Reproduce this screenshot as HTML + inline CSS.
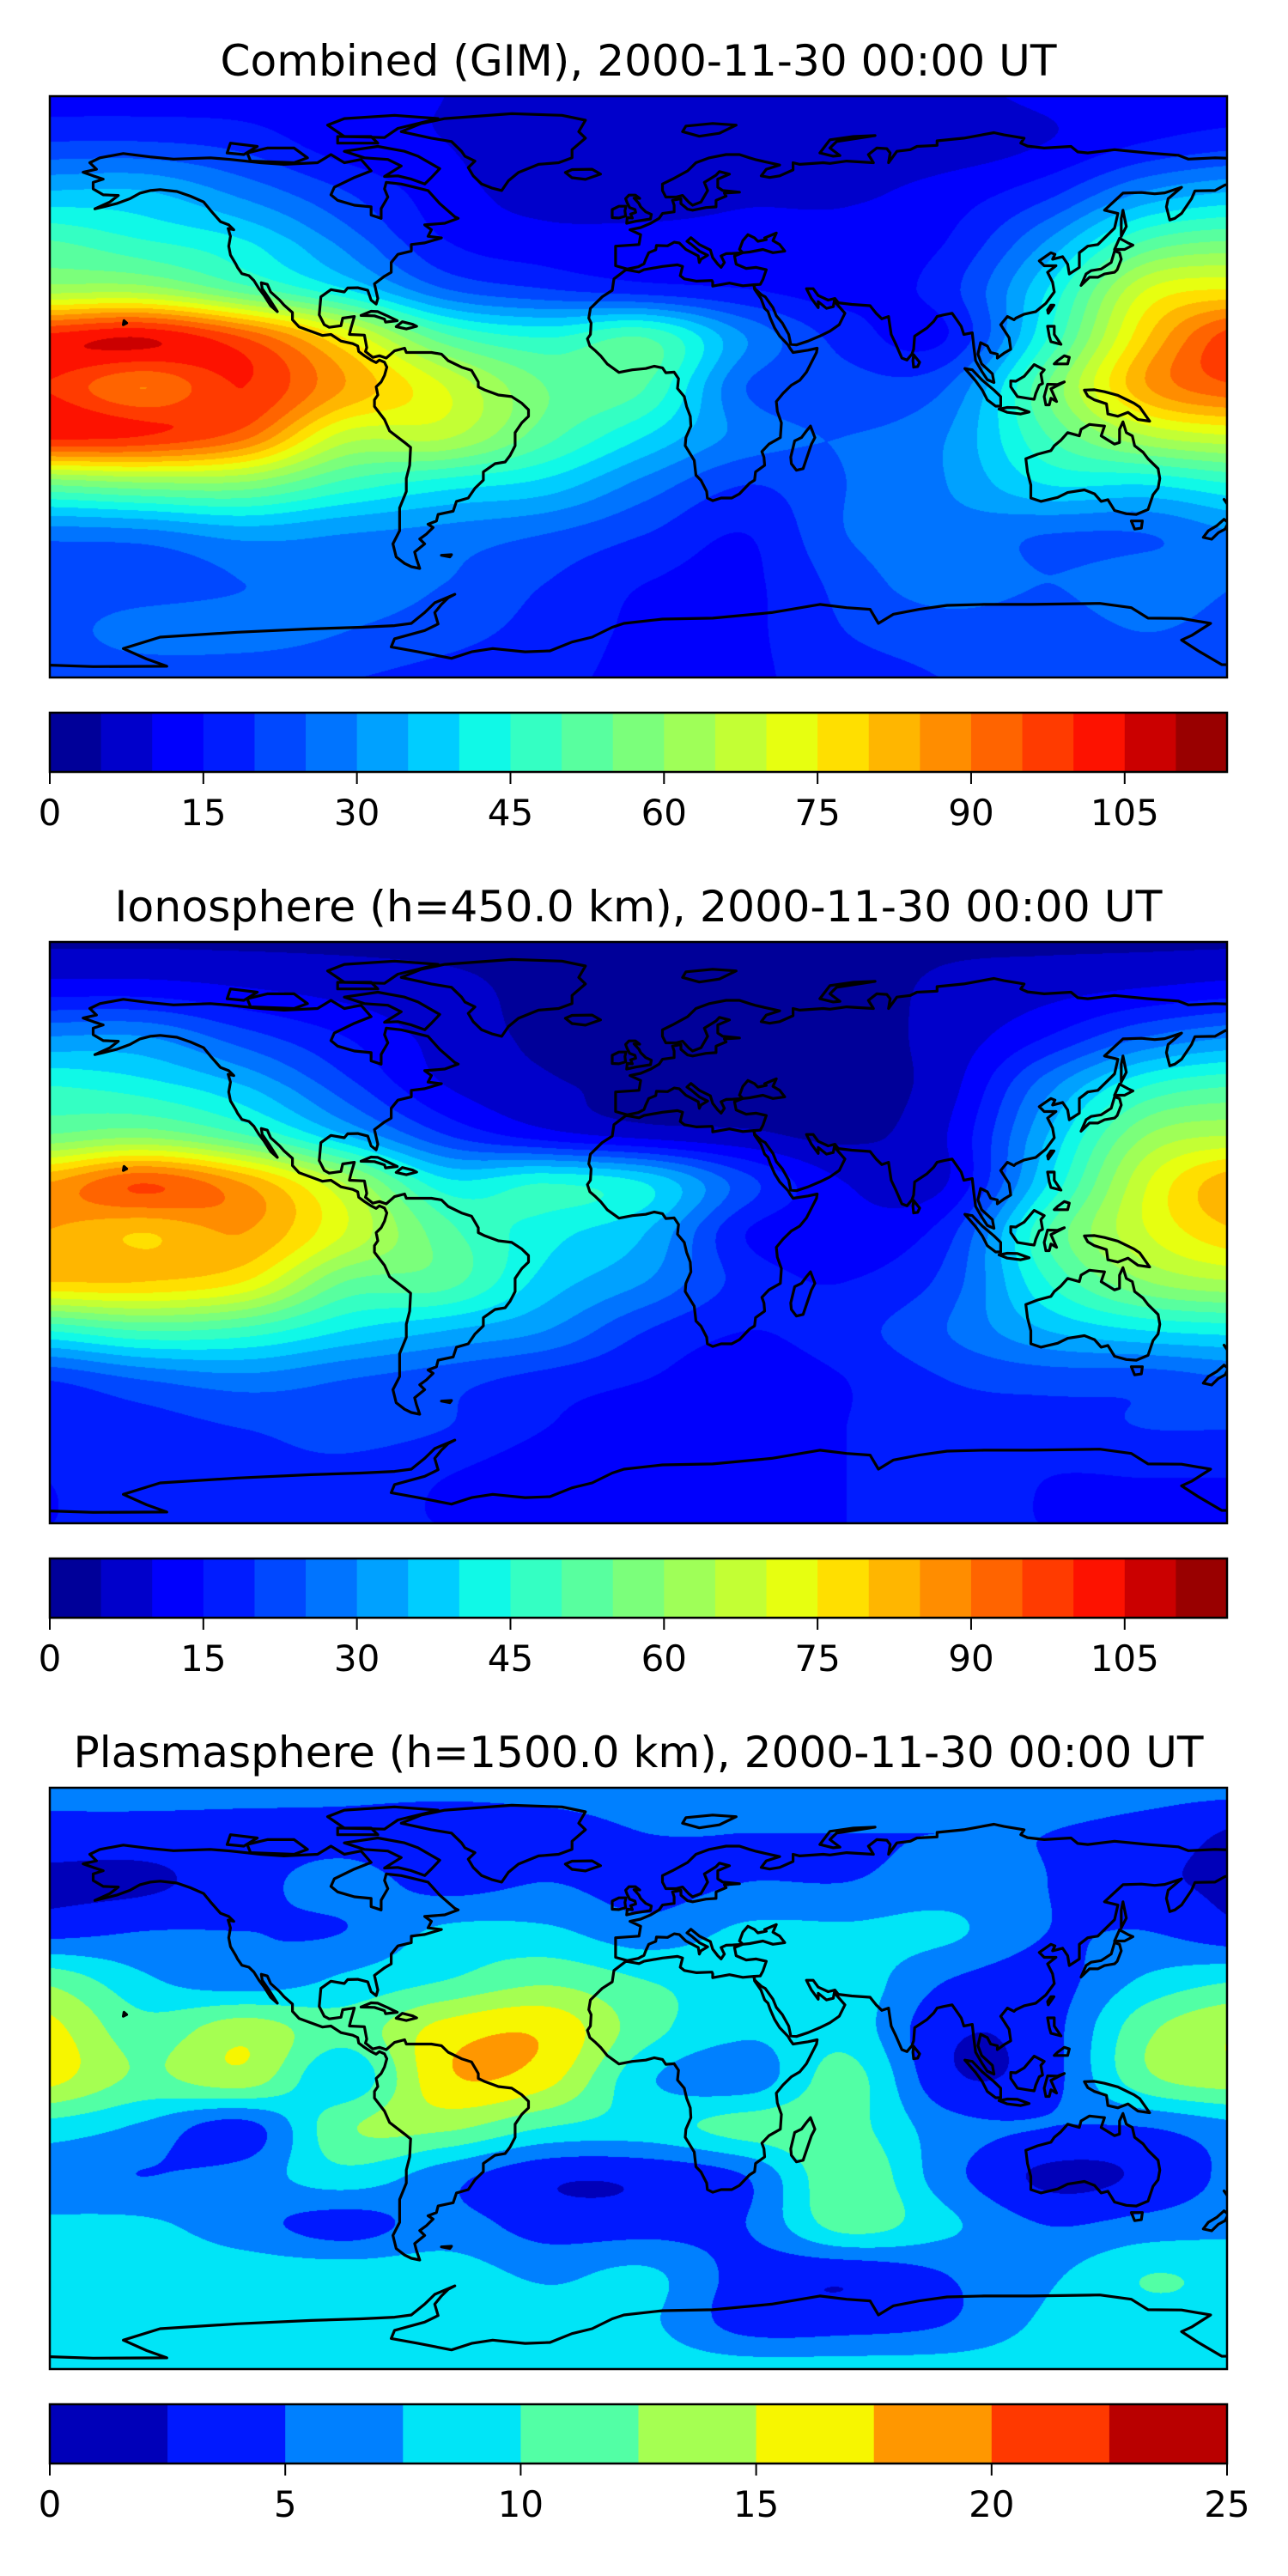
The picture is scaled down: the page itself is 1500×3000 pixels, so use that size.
<!DOCTYPE html>
<html><head><meta charset="utf-8">
<style>
body{margin:0;width:1500px;height:3000px;background:#fff;position:relative;overflow:hidden;font-family:"DejaVu Sans","Liberation Sans",sans-serif}
canvas{position:absolute}
svg{position:absolute;left:0;top:0}
</style></head>
<body>
<svg id="ov" width="1500" height="3000"></svg>
<script>
// ---- chart data ----
const gridLats=[90,75,60,45,30,15,0,-15,-30,-45,-60,-75,-90];
const gridLons=[-180,-150,-120,-90,-60,-30,0,30,60,90,120,150,180];
const gimValues=[
[12,12,12,11,10,9,9,9,9,9,11,12,12],
[20,20,18,12,10,8,7,7,7,7,10,15,18],
[35,35,28,20,12,8,7,9,9,12,18,30,35],
[50,45,40,28,15,12,12,12,12,15,30,50,55],
[62,62,52,40,25,20,17,15,13,18,40,70,75],
[102,105,95,75,52,45,50,30,18,15,45,80,100],
[100,90,100,85,70,55,50,25,22,25,55,85,95],
[102,100,92,68,66,52,40,28,25,30,50,65,70],
[55,58,58,48,42,38,28,20,25,30,40,40,45],
[27,28,32,30,28,25,20,15,25,28,25,25,30],
[22,22,25,28,25,20,15,14,22,28,25,28,25],
[22,28,28,25,22,18,14,14,20,22,22,25,22],
[20,20,20,20,18,16,14,14,18,20,20,20,20]];
const ionoValues=[
[4,4,4,4,4,4,3,3,3,4,4,4,4],
[12,12,10,8,6,4,3,3,3,6,8,10,12],
[30,30,22,15,8,4,3,3,3,7,15,25,30],
[45,42,35,22,10,6,3,3,3,8,28,45,50],
[55,58,50,35,20,12,8,6,4,10,35,60,65],
[85,95,85,65,42,45,40,22,10,10,40,70,85],
[85,80,85,70,52,42,35,15,12,18,50,70,80],
[80,80,75,55,52,38,30,18,15,22,45,60,65],
[45,50,48,40,35,30,20,15,18,25,35,40,42],
[20,25,28,25,22,18,15,12,15,20,22,22,25],
[18,18,20,22,20,15,12,12,15,18,18,20,20],
[15,18,18,18,15,12,12,12,15,18,15,15,15],
[15,15,15,15,15,15,15,15,15,15,15,15,15]];
const plasmaValues=[
[6,6,6,6,6,6,6,6,6,6,6,6,6],
[4,4,4,4,3,4,5,5,5,5,5,4,2],
[2,2,4,6,4,5,4,5,5,6,5,3,2],
[4,5,5,5,8,8,6,8,8,8,5,5,3],
[12,8,6,8,10,12,10,9,9,5,4,8,10],
[16,11,14,11,16,17,11,8,9,3,4,12,15],
[16,12,14,8,17,16,8,6,11,3,4,12,14],
[9,7,4,12,13,10,9,11,11,6,5,5,7],
[6,5,6,9,6,3,3,5,12,6,2,3,6],
[8,8,6,4,6,4,4,5,11,8,5,6,7],
[9,9,9,9,9,7,8,4,3,5,7,10,9],
[9,9,9,9,10,9,8,4,4,5,8,9,9],
[9,9,9,9,9,9,9,9,9,9,9,9,9]];
const gimTicks=[0,15,30,45,60,75,90,105];
const ionoTicks=[0,15,30,45,60,75,90,105];
const plasmaTicks=[0,5,10,15,20,25];
const panelTitles=["Combined (GIM), 2000-11-30 00:00 UT","Ionosphere  (h=450.0 km), 2000-11-30 00:00 UT","Plasmasphere (h=1500.0 km), 2000-11-30 00:00 UT"];

// coastlines [lon,lat]
const coasts={
americas:[[-166,68.5],[-163,70],[-156,71.3],[-148,70.3],[-141,69.6],[-130,70],[-124,69.5],[-115,68.5],[-108,68],[-98,68.5],[-94,71],[-90,68.5],[-85,69.5],[-82,66],[-87,64],[-93,61],[-94,58.7],[-92,57],[-87,55.5],[-82,55],[-82,52.5],[-79,51.5],[-79,54.5],[-77,58],[-78,60.5],[-77.5,62.5],[-73,62],[-69,61],[-65,60],[-61.5,56],[-57,52],[-56,51.5],[-60,50],[-66,49.5],[-64,48],[-65,46],[-61,45.5],[-66,44],[-70,43.5],[-70,41.5],[-74,40.5],[-76,38],[-76,35],[-78,33.8],[-81,31.5],[-80,27],[-80.5,25.3],[-82,26.5],[-83,29.5],[-86,30.3],[-89,30.2],[-90,29],[-94,29.7],[-97,27.5],[-97.5,22],[-96,19],[-94.5,18.2],[-91,18.7],[-90.5,21],[-87,21.5],[-88,18],[-88.5,16],[-84,15.8],[-83.3,12],[-83.7,10.8],[-81.5,9],[-79.5,9.5],[-77.5,8.8],[-75,11],[-72,11.8],[-71.5,10.5],[-68,10.5],[-64,10.5],[-61,10],[-59,8],[-55,6],[-52,5],[-50,1.5],[-50,0],[-48,-1],[-44,-2.5],[-40,-3],[-37,-5],[-35,-7],[-35,-9],[-37,-11],[-39,-14],[-39,-18],[-40.5,-21],[-42,-23],[-45,-23.5],[-48.5,-26],[-48.5,-28.5],[-51,-31],[-53,-34],[-56.5,-35],[-57.5,-38],[-62,-39],[-62.5,-41],[-65,-42],[-63.5,-43],[-65.5,-45],[-67.5,-46.5],[-66,-48],[-69,-50.5],[-68.5,-52.5],[-67.5,-55.5],[-70,-55],[-72,-54],[-74.5,-52],[-75.5,-48],[-73.5,-44],[-73.5,-40],[-73.5,-37],[-71.5,-32],[-71.5,-28],[-70.5,-24],[-70.2,-18.5],[-72,-17],[-76.5,-13.5],[-78,-10],[-81,-6],[-81,-4],[-80,-2.5],[-80.5,0],[-79,1.5],[-78,3.5],[-77.3,6],[-78,7.5],[-79.5,8.2],[-80.5,7.4],[-82,8.2],[-84,9.5],[-85.7,10.8],[-86,12.5],[-87.5,13.2],[-91,14],[-94,16],[-96.5,15.7],[-100,17],[-103.5,18.3],[-105.5,20.5],[-105.5,22.7],[-108,25],[-109.3,26.5],[-112,29],[-113,31.3],[-114.8,31.8],[-114.5,30],[-112.5,27],[-110,23],[-112,24.8],[-114,28],[-115.5,30],[-117,32.5],[-118.5,34],[-120.6,34.6],[-121.9,36.5],[-122.5,37.7],[-124,40.3],[-124.5,43],[-124,46],[-124.7,48.4],[-123,48],[-124.5,49.5],[-127,50.5],[-130,54],[-132,56.5],[-136,58.3],[-140,59.7],[-145,60.3],[-148,60],[-151,59.2],[-154,57.5],[-158,56],[-162,55],[-164.5,54.4],[-160,56.5],[-157.5,58.5],[-162,58.7],[-165,60.5],[-165,62.5],[-162,63.5],[-165,64.5],[-168,65.6],[-164,66.5],[-166,68.5]],
greenland:[[-73,78],[-67,80.5],[-60,82],[-40,83.5],[-25,83],[-18,81.5],[-20,78],[-18,76],[-22,72.5],[-22,70],[-26,68.5],[-32,68],[-38,65.5],[-41,63],[-43,60],[-46,60.8],[-49,62],[-51.5,64.5],[-53,67],[-51,69],[-54,70.5],[-55,72],[-58,75],[-64,76],[-73,78]],
baffin:[[-61.5,66.7],[-64,64],[-66,62],[-70,63.5],[-74,64.5],[-78,64.3],[-73,67.5],[-77,69.5],[-84,70],[-90,72],[-80,73.5],[-72,72],[-68,70.5],[-61.5,66.7]],
victoria:[[-118,69],[-105,68.5],[-101,70],[-105,73],[-113,73],[-119,71.5],[-118,69]],
ellesmere:[[-90,76.5],[-78,76.2],[-74,79],[-62,82],[-75,83],[-90,82],[-95,80],[-90,76.5]],
banks:[[-125,71.5],[-120,71],[-116,73.5],[-124,74.5],[-125,71.5]],
devon:[[-92,74.5],[-80,74.5],[-82,76.5],[-92,76.5],[-92,74.5]],
eurasia:[[-5.5,36],[-9,37],[-9,39],[-9,43],[-2,43.5],[-1.5,46.5],[-4.7,48],[-1.5,48.7],[1.5,50],[4,51.5],[5,53],[8.5,53.5],[8.5,55.5],[8,57],[10.5,57.5],[10.5,56],[12.5,54.3],[14,54],[18,54.8],[21,55],[21,57],[24,58.3],[23.5,59.2],[28,59.5],[23,60],[21.5,61],[21.5,63.5],[25,65],[22,65.8],[21,64.7],[17.5,62.5],[18.5,60],[16.5,56.5],[14,55.5],[12.8,56.5],[11,58.5],[9,58],[6,58],[5,60],[5,62],[8,63.5],[12.5,66],[15,68.5],[19,70],[24,71],[28,71],[31,70],[33,69.4],[40,67.8],[36,66.5],[34.5,64.5],[37,64],[40,64.5],[44,66.3],[44,68.5],[46,68],[53,68.5],[55,68.3],[60,69],[68,68.5],[66.5,71],[69,73],[72,72.8],[73,71.5],[72.5,68.5],[75,72],[79,72.5],[81,73.5],[87,73.8],[87,75.2],[95,76],[104,77.7],[107,77],[113,76],[112,74.5],[114,73.6],[119,73],[127,73.5],[129,71.8],[132,71.5],[140,72.5],[150,71.5],[159,70.8],[162,69.6],[170,70],[176,69.8],[178,69.4],[180,69],[180,65],[178,64.5],[177,62.5],[173,61.7],[170,60],[164,59.9],[163,57.5],[162,56],[160,53],[158,51.5],[156.5,51],[155.5,55],[156,57.5],[160,61],[155,59.3],[152,59],[148,59.4],[142.5,59.2],[137,54],[141,53],[140,48.5],[135,43.5],[132,43],[129.5,41],[129.5,36.5],[126.5,34.5],[126,37.5],[124.5,39.8],[121.5,39],[122.2,40.5],[121,41],[117.5,38.5],[119,37],[122.5,37],[120,35],[121.5,32],[122,29],[119.5,25.5],[116.5,23],[113,22.2],[110.5,21],[110,20.5],[108,21.5],[106,19],[108.5,15],[109,11.5],[107,10.3],[105,8.8],[105,10],[103,10.5],[102,12.5],[100,13.5],[99.2,10],[100.3,7],[103.5,4],[104,1.3],[102,2.2],[100.5,4.5],[98.5,8],[98,12],[97.5,16.5],[95,16],[94.2,18.5],[92.5,21],[91.5,22.5],[89,22],[87,21.5],[86,20],[84,18],[80.3,15.5],[80,11.5],[79.5,10],[78,8.2],[76.5,8.8],[74.8,12.8],[73.3,16],[72.8,19.5],[72.5,21.5],[70.5,20.8],[68.8,22.5],[67,24.8],[61.5,25.2],[57.5,25.7],[56.5,27],[54.5,26.5],[51.5,27.9],[50,30],[48,30],[49.5,27],[51.5,24.2],[51.5,26],[54,24],[56,24.5],[56.3,26.2],[59.5,22.5],[57.8,19],[55,17],[52,15.5],[48.5,14],[45,12.8],[43.3,13],[42.7,16],[40.8,19.5],[39,21.7],[38,24.2],[35.7,27.5],[34.6,28.1],[32.6,30],[32.3,31.2],[34.2,31.3],[35,32.8],[36,35.8],[33,36.5],[30,36.2],[27,37.5],[26.5,40],[29,41],[31,41.2],[35,42],[38,41],[41.5,41.5],[40,43.5],[38,44.7],[39,47],[35.5,45.5],[36,45],[33.5,44.5],[32.5,45.5],[30.5,46.5],[29,44.7],[28,42],[29,41],[26,40.8],[24,40.7],[22.5,40],[23.5,38],[22.5,36.5],[21.5,37.5],[20,39.5],[19.3,41.8],[16,43.5],[13.5,45.6],[12.3,44.5],[13.7,43.5],[16,41.5],[18.5,40.2],[16.5,39],[16,38],[15.7,40],[12,42],[10,44],[8.5,44.2],[6.5,43.1],[3.2,43.2],[3,41.9],[0.9,41],[0,39],[-0.5,37.6],[-2.2,36.7],[-5.5,36]],
africa:[[-5.9,35.8],[-9.5,33],[-10,29.5],[-13,27.5],[-16.5,24],[-17,21],[-16.3,19.5],[-16.5,16],[-17.4,14.7],[-16.7,12.5],[-15,11],[-13.5,9.5],[-11.5,7],[-8,4.4],[-4,5.2],[0,5.6],[2.5,6.3],[5,5.8],[6,4.3],[8.5,4.5],[9.8,2.5],[9.5,-0.5],[11.5,-3],[12.2,-6],[13.3,-9],[13.5,-12],[12,-15.5],[11.8,-18],[14.5,-22.5],[15,-27],[16.5,-28.6],[18.2,-32],[18.4,-34],[20,-34.8],[22.5,-34],[25.7,-34],[28,-32.7],[31,-29.5],[32.5,-28.5],[32.8,-26],[35.5,-24],[35.3,-21.5],[34.7,-19.8],[36.8,-17.5],[40.2,-15.5],[40.5,-11],[39.3,-7.5],[39,-4.5],[41,-2],[43.5,0.5],[46,2],[48,4.5],[51,10.5],[51.2,11.8],[48.5,11.2],[44,10.5],[43.2,11.6],[42.5,12.8],[40,15.5],[38.5,18],[37.2,21],[36.5,23],[35.5,24],[34.4,27],[32.5,29.8],[32.3,31.2],[29,30.9],[25,31.7],[20,30.8],[20,32],[19.8,32.5],[15.2,32.3],[11.5,33],[10.3,34],[11,36.8],[9.5,37.3],[5,36.8],[-0.5,35.8],[-2,35.1],[-5.9,35.8]],
britain:[[-5.7,50],[-3,50.6],[1.4,51.3],[1.7,52.7],[0,53.5],[-1.5,55],[-2,56],[-3.5,57.7],[-1.8,57.6],[-3.1,58.6],[-5,58.6],[-6,57.5],[-5.5,56.2],[-4.8,54.8],[-3.2,54.2],[-3,53.3],[-4.5,52.8],[-4,51.6],[-5.5,51.7],[-5.7,50]],
ireland:[[-6,52.2],[-6.2,53.8],[-5.9,55.2],[-8,55.2],[-10,54.2],[-10,51.7],[-8,51.6],[-6,52.2]],
iceland:[[-22,63.9],[-24,65.5],[-22,66.4],[-16,66.5],[-13.5,65],[-18,63.4],[-22,63.9]],
honshu:[[130,31],[131.5,34.5],[133,35.5],[136,36],[139,38],[140,41.5],[141.5,41],[142,39],[140.8,35.8],[140,35],[137,34.5],[135,33.5],[132.5,33.5],[130,31]],
hokkaido:[[140,42],[141.5,45.4],[144,44],[145.5,43.3],[143,42],[140,42]],
sakhalin:[[142,46],[143.5,49],[142.5,54],[142,51.5],[142,46]],
taiwan:[[120.2,22.5],[121.9,25],[121,25],[120,23.5],[120.2,22.5]],
luzon:[[120,18.5],[122,18.5],[122,16],[124,13],[121,13.8],[120.5,15.5],[120,18.5]],
mindanao:[[122,7],[126,7],[126.5,9],[125,9.5],[123,8],[122,7]],
sumatra:[[95.3,5.6],[97.5,5.2],[100.5,2],[104,-1],[106,-3],[106,-5.9],[104.5,-5.9],[102,-4],[100.5,-1],[98.5,1.8],[95.3,5.6]],
java:[[105.5,-6.8],[108,-6.3],[111,-6.4],[114.5,-7.7],[112,-8.3],[108,-7.8],[105.5,-6.8]],
borneo:[[109,1.8],[110.5,1.7],[113,3.2],[116,6.8],[119,5.2],[118,4],[118.5,1],[117.5,0.5],[116.5,-2],[116,-3.8],[114.5,-3.6],[111,-3],[110,-1.5],[109,0],[109,1.8]],
sulawesi:[[119.5,-5.5],[119,-3],[120,0.8],[123,0.7],[125,1.5],[121,-0.6],[122.7,-4.5],[121,-3.5],[120.5,-5.5],[119.5,-5.5]],
newguinea:[[131,-1],[134,-0.9],[137,-1.5],[141,-2.6],[145.8,-5],[147.5,-6.2],[150.5,-10.5],[147,-10],[144,-7.8],[141,-9],[138,-8.3],[137.6,-5.2],[134,-4],[132,-2.8],[131,-1]],
australia:[[113.5,-22],[114,-26],[115,-30],[115,-34],[118,-35],[123,-33.8],[126,-32.3],[131,-31.5],[134,-32.7],[136,-35],[138,-34.5],[140,-37.8],[143.5,-38.8],[146.5,-39],[150,-37.5],[151.5,-33],[153,-31],[153.5,-28],[153,-25],[150,-22],[148.5,-20],[146,-18],[145.3,-15],[143.5,-14],[142.5,-10.7],[141.5,-13],[141.5,-17],[140,-17.5],[136,-15],[137,-12],[136,-11.9],[132.5,-11.5],[130,-13],[129.5,-15],[126,-14],[124,-16.3],[122,-18],[121,-19.5],[117,-20.6],[113.5,-22]],
tasmania:[[145,-41],[148.3,-41],[148,-43.2],[146,-43.5],[145,-41]],
nznorth:[[172.7,-34.4],[174.5,-36.5],[176,-37.7],[178.5,-37.7],[177,-39.4],[175,-41.4],[174.6,-39.8],[173.8,-39],[174.5,-37],[172.7,-34.4]],
nzsouth:[[172.7,-40.5],[174,-41.5],[173,-43.5],[171,-44.6],[169,-46.6],[166.5,-46],[168,-44],[170.5,-42.5],[172.7,-40.5]],
madagascar:[[49.2,-12],[50.5,-15.5],[49.5,-17.5],[48,-22],[47,-25],[45,-25.5],[43.5,-23.5],[43.3,-21.5],[44.5,-16.5],[46.5,-15.5],[48,-13.5],[49.2,-12]],
srilanka:[[80,9.8],[81.8,7.5],[81.2,6.2],[80,6],[79.8,8],[80,9.8]],
cuba:[[-85,21.8],[-82,23.1],[-80,23],[-77,21.6],[-74.2,20.2],[-77.7,19.8],[-78,20.7],[-81,21.7],[-85,21.8]],
hispaniola:[[-74.5,18.4],[-72.7,19.9],[-69.6,19.1],[-68.4,18.5],[-71.5,17.7],[-74.5,18.4]],
novayazemlya:[[52,71.5],[56,70.5],[58,70.7],[55,73],[57,75],[68.5,76.8],[62,76.5],[55,75.5],[52,71.5]],
svalbard:[[11,78],[16,76.6],[22,77.5],[27,80],[20,80.5],[12,79.7],[11,78]],
hawaii:[[-156,19],[-155,19.5],[-155.8,20.2],[-156,19]],
falklands:[[-61,-51.5],[-58,-51.3],[-58.5,-52],[-61,-51.5]],
antarctica:[[-180,-85],[-165,-85.5],[-143,-85.4],[-149,-83.2],[-156,-80],[-145,-76.5],[-122,-75],[-100,-74],[-85,-73.5],[-75,-73],[-70,-72.3],[-66,-69],[-63,-66],[-57,-63.4],[-59,-64.5],[-61,-66.5],[-63,-69],[-62,-72.5],[-66,-74.5],[-75,-77],[-76,-79.5],[-68,-81],[-58,-83],[-52,-81],[-45.7,-80],[-36,-81],[-28.6,-80.7],[-22,-78],[-16,-76.5],[-10,-73.5],[-6.5,-72.3],[5,-71],[20,-70.7],[37.6,-69],[52,-66.5],[60,-67.5],[67,-68],[69.5,-72.3],[74,-69.5],[81.7,-68],[90,-66.8],[101,-66.5],[115,-66.5],[135.6,-66.2],[145,-67.5],[150,-70.7],[160,-70.8],[168.7,-72.3],[163,-76],[160,-77.4],[165,-80.7],[172,-84.9],[180,-85]]
};

// ---- geometry ----
const MAPX=58, MAPW=1371, MAPY=112, MAPH=677, PANEL_DY=985;
const CBY=830, CBH=69;
function xOfLon(lon){return 752+3.9*lon;}
function yOfLat(lat){return 450.5-3.81*lat;}
function lonOfX(x){return (x-752)/3.9;}
function latOfY(y){return (450.5-y)/3.81;}

function jetChan(t,pts){for(let i=1;i<pts.length;i++){if(t<=pts[i][0]){const a=pts[i-1],b=pts[i];return a[1]+(b[1]-a[1])*(t-a[0])/(b[0]-a[0]);}}return pts[pts.length-1][1];}
function jet(t){
 const r=jetChan(t,[[0,0],[0.35,0],[0.66,1],[0.89,1],[1,0.5]]);
 const g=jetChan(t,[[0,0],[0.125,0],[0.375,1],[0.64,1],[0.91,0],[1,0]]);
 const b=jetChan(t,[[0,0.5],[0.11,1],[0.34,1],[0.65,0],[1,0]]);
 return [Math.round(r*255),Math.round(g*255),Math.round(b*255)];
}
function cr(p0,p1,p2,p3,t){return p1+0.5*t*(p2-p0+t*(2*p0-5*p1+4*p2-p3+t*(3*(p1-p2)+p3-p0)));}
function interp(grid,lat,lon){
 const gx=(lon-gridLons[0])/(gridLons[1]-gridLons[0]);
 const gy=(gridLats[0]-lat)/(gridLats[0]-gridLats[1]);
 const nr=grid.length,nc=grid[0].length;
 let i=Math.max(0,Math.min(nc-2,Math.floor(gx))),j=Math.max(0,Math.min(nr-2,Math.floor(gy)));
 const fx=gx-i,fy=gy-j;
 const g=(r,c)=>grid[Math.max(0,Math.min(nr-1,r))][Math.max(0,Math.min(nc-1,c))];
 const rows=[];
 for(let k=-1;k<=2;k++){rows.push(cr(g(j+k,i-1),g(j+k,i),g(j+k,i+1),g(j+k,i+2),fx));}
 return cr(rows[0],rows[1],rows[2],rows[3],fy);
}

const svgNS="http://www.w3.org/2000/svg";
const ov=document.getElementById('ov');
function mk(tag,attrs,parent){const e=document.createElementNS(svgNS,tag);for(const k in attrs)e.setAttribute(k,attrs[k]);(parent||ov).appendChild(e);return e;}

const panels=[
 {values:gimValues,ticks:gimTicks,max:115,step:5,title:panelTitles[0],tw:974,name:'combined-gim'},
 {values:ionoValues,ticks:ionoTicks,max:115,step:5,title:panelTitles[1],tw:1220,name:'ionosphere'},
 {values:plasmaValues,ticks:plasmaTicks,max:25,step:2.5,title:panelTitles[2],tw:1316,name:'plasmasphere'}];

panels.forEach((p,pi)=>{
 const off=pi*PANEL_DY;
 const n=Math.round(p.max/p.step);
 const cols=[];for(let k=0;k<n;k++)cols.push(jet((k+0.5)/n));
 const cv=document.createElement('canvas');
 cv.width=MAPW;cv.height=MAPH;
 cv.style.left=MAPX+'px';cv.style.top=(MAPY+off)+'px';
 
 
 document.body.insertBefore(cv,ov);
 const ctx=cv.getContext('2d');
 const img=ctx.createImageData(MAPW,MAPH);
 for(let py=0;py<MAPH;py++){
  const lat=latOfY(MAPY+py+0.5);
  for(let px=0;px<MAPW;px++){
   const lon=lonOfX(MAPX+px+0.5);
   const v=interp(p.values,lat,lon)+1e-6;
   let k=Math.floor(v/p.step);k=Math.max(0,Math.min(n-1,k));
   const c=cols[k],o=(py*MAPW+px)*4;
   img.data[o]=c[0];img.data[o+1]=c[1];img.data[o+2]=c[2];img.data[o+3]=255;
  }
 }
 ctx.putImageData(img,0,0);

 const g=mk('g',{});
 
 
 const t=mk('text',{x:743.5,y:88+off,'text-anchor':'middle','font-size':50,'font-family':'DejaVu Sans, Liberation Sans, sans-serif',textLength:p.tw,lengthAdjust:'spacingAndGlyphs',fill:'#000'},g);
 t.textContent=p.title;
 
 

 const cid='clip'+pi;
 const cp=mk('clipPath',{id:cid},g);
 mk('rect',{x:MAPX,y:MAPY,width:MAPW,height:MAPH},cp);
 const tg=mk('g',{transform:'translate(0,'+off+')'},g);
 const cg=mk('g',{'clip-path':'url(#'+cid+')'},tg);
 
 
 for(const key in coasts){
  const pts=coasts[key].map(q=>xOfLon(q[0]).toFixed(1)+','+yOfLat(q[1]).toFixed(1)).join(' ');
  const pl=mk('polyline',{points:pts,fill:'none',stroke:'#000','stroke-width':3.2,'stroke-linejoin':'round','stroke-linecap':'round'},cg);
  
  
 }
 const fr=mk('rect',{x:MAPX,y:MAPY+off,width:MAPW,height:MAPH,fill:'none',stroke:'#000','stroke-width':2.5},g);
 
 

 const cb=mk('g',{},g);
 
 
 const sx=v=>MAPX+v/p.max*MAPW;
 for(let k=0;k<n;k++){
  const c=cols[k];
  const r=mk('rect',{x:sx(k*p.step),y:CBY+off,width:sx((k+1)*p.step)-sx(k*p.step)+0.6,height:CBH,fill:'rgb('+c.join(',')+')'},cb);
  
  
 }
 mk('rect',{x:MAPX,y:CBY+off,width:MAPW,height:CBH,fill:'none',stroke:'#000','stroke-width':2.5},cb);
 p.ticks.forEach(v=>{
  const x=sx(v);
  const tl=mk('line',{x1:x,x2:x,y1:CBY+CBH+off,y2:CBY+CBH+14+off,stroke:'#000','stroke-width':2},cb);
  
  
  const tx=mk('text',{x:x,y:961+off,'text-anchor':'middle','font-size':42,'font-family':'DejaVu Sans, Liberation Sans, sans-serif',fill:'#000'},cb);
  tx.textContent=String(v);
  
  
 });
});
</script>
</body></html>
